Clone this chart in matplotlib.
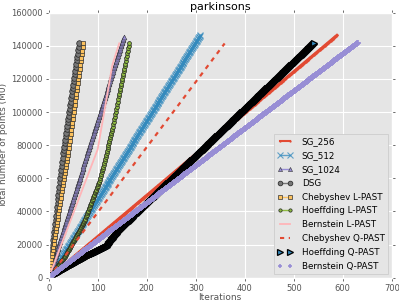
import numpy as np
import matplotlib
matplotlib.use("Agg")
import matplotlib.pyplot as plt

plt.style.use("ggplot")

# ---- data: piecewise per-iteration growth (stage lengths, points added per iteration)
sg256_len, sg256_step = [588], [249]
sg512_len, sg512_step = [309], [474]
sg1024_len, sg1024_step = [153], [950]
dsg_len, dsg_step = [30, 32], [2500, 2080]
cheb_l_len, cheb_l_step = [1, 39, 30], [4000, 1850, 2180]
hoef_l_len, hoef_l_step = [33, 41, 30, 26, 34], [385, 540, 800, 1180, 1530]
bern_l_len, bern_l_step = [100, 30, 14], [775, 1700, 930]
cheb_q_len, cheb_q_step = [359], [394]
hoef_q_len, hoef_q_step = [70, 48, 25, 399], [167, 146, 380, 284]
bern_q_len, bern_q_step = [630], [225]

labels = ["SG_256", "SG_512", "SG_1024", "DSG", "Chebyshev L-PAST",
          "Hoeffding L-PAST", "Bernstein L-PAST", "Chebyshev Q-PAST",
          "Hoeffding Q-PAST", "Bernstein Q-PAST"]
x_ticks = [0, 100, 200, 300, 400, 500, 600, 700]
y_ticks = [0, 20000, 40000, 60000, 80000, 100000, 120000, 140000, 160000]


def series(lengths, steps):
    y = np.concatenate([[0], np.cumsum(np.repeat(steps, lengths))])
    return np.arange(len(y)), y


data = [series(sg256_len, sg256_step), series(sg512_len, sg512_step),
        series(sg1024_len, sg1024_step), series(dsg_len, dsg_step),
        series(cheb_l_len, cheb_l_step), series(hoef_l_len, hoef_l_step),
        series(bern_l_len, bern_l_step), series(cheb_q_len, cheb_q_step),
        series(hoef_q_len, hoef_q_step), series(bern_q_len, bern_q_step)]

styles = [
    dict(color="#E24A33", ls="-", lw=2.0, marker=".", ms=1.5),
    dict(color="#348ABD", ls="-", lw=1.0, marker="x", ms=4.5, mew=0.8, alpha=0.75),
    dict(color="#988ED5", ls="-", lw=1.0, marker="^", ms=3.5, mec="#333333", mew=0.4),
    dict(color="#777777", ls="-", lw=1.0, marker="o", ms=4.0, mec="#222222", mew=0.5),
    dict(color="#FBC15E", ls="-", lw=1.0, marker="s", ms=3.5, mec="#333333", mew=0.5),
    dict(color="#8EBA42", ls="-", lw=1.0, marker="o", ms=2.8, mec="#222222", mew=0.5),
    dict(color="#FFB5B8", ls="-", lw=1.3),
    dict(color="#E24A33", ls="--", lw=1.6, dashes=(2.0, 2.2)),
    dict(color="#348ABD", ls="none", marker=">", ms=4.5, mec="black", mew=0.9),
    dict(color="#988ED5", ls="none", marker="+", ms=4.0, mew=1.2),
]

fig = plt.figure(figsize=(3.99, 3.03), dpi=100)
ax = fig.add_axes([0.122, 0.0835, 0.860, 0.8745])

for (x, y), lab, st in zip(data, labels, styles):
    ax.plot(x, y, label=lab, **st)

ax.set_xlim(0, 700)
ax.set_ylim(0, 160000)
ax.set_xticks(x_ticks)
ax.set_yticks(y_ticks)
ax.tick_params(axis="both", which="both", direction="out", labelsize=6,
               colors="#555555", top=True, right=True, length=2.5, width=0.6,
               pad=2)
ax.set_xlabel("Iterations", fontsize=6.5, color="#555555", labelpad=0)
ax.set_ylabel("Total number of points (M0)", fontsize=6.5, color="#555555", labelpad=2)
ax.set_title("parkinsons", fontsize=8, pad=2)
ax.grid(True, color="white", lw=0.8)

leg = ax.legend(loc="lower right", fontsize=6.3, numpoints=2, fancybox=False,
                framealpha=1, borderaxespad=0.4, labelspacing=0.55,
                handlelength=1.8, handletextpad=1.0, markerscale=0.85)
leg.get_frame().set_facecolor("#E5E5E5")
leg.get_frame().set_edgecolor("#CCCCCC")
leg.get_frame().set_linewidth(0.6)
for h in leg.get_lines():
    if h.get_linewidth() > 1.5:
        h.set_linewidth(1.5)

fig.savefig("out.png", dpi=100)
